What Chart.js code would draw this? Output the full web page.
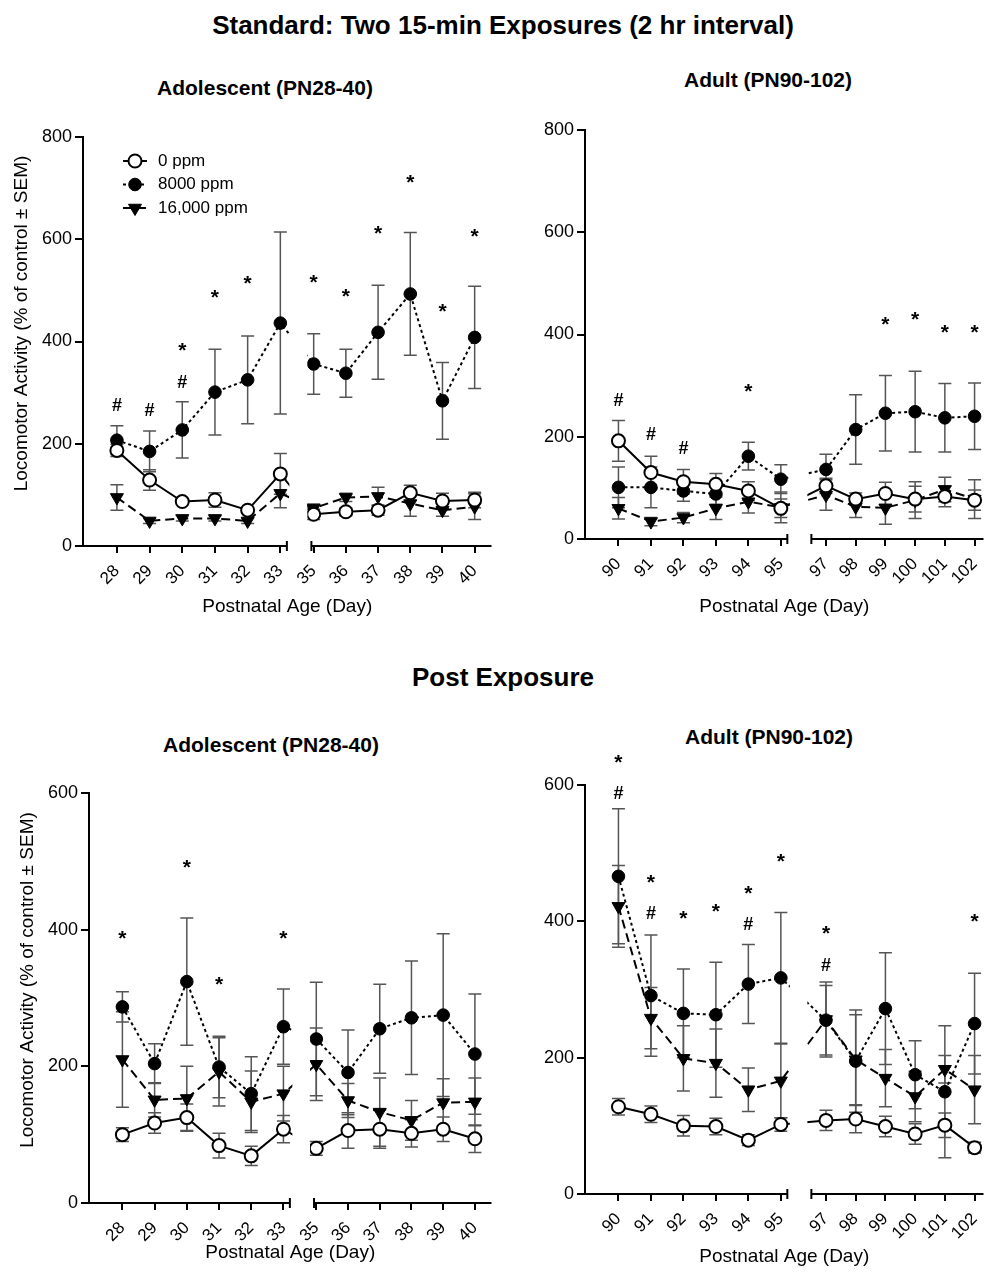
<!DOCTYPE html>
<html>
<head>
<meta charset="utf-8">
<script src="https://cdn.jsdelivr.net/npm/chart.js@4.4.1/dist/chart.umd.min.js"></script>
<style>
  body { margin: 0; background: #fff; width: 992px; height: 1272px; position: relative; overflow: hidden;
         font-family: "Liberation Sans", Arial, Helvetica, sans-serif; color: #000; }
  .hd { position: absolute; font-weight: bold; white-space: nowrap; transform: translate(-50%, -50%); }
  .panel { position: absolute; }
</style>
</head>
<body>
<div class="hd" style="left:503px;top:25px;font-size:26px">Standard: Two 15-min Exposures (2 hr interval)</div>
<div class="hd" style="left:265px;top:88px;font-size:21px">Adolescent (PN28-40)</div>
<div class="hd" style="left:768px;top:80px;font-size:21px">Adult (PN90-102)</div>
<div class="hd" style="left:503px;top:677px;font-size:26px">Post Exposure</div>
<div class="hd" style="left:271px;top:745px;font-size:21px">Adolescent (PN28-40)</div>
<div class="hd" style="left:769px;top:737px;font-size:21px">Adult (PN90-102)</div>

<div class="panel"><canvas id="stdAdol"></canvas></div>
<div class="panel"><canvas id="stdAdult"></canvas></div>
<div class="panel"><canvas id="postAdol"></canvas></div>
<div class="panel"><canvas id="postAdult"></canvas></div>

<script>
// days on the x axis (the gap is the missing day)
const adolDays = [28, 29, 30, 31, 32, 33, 35, 36, 37, 38, 39, 40];
const adultDays = [90, 91, 92, 93, 94, 95, 97, 98, 99, 100, 101, 102];
const seriesNames = ["0 ppm", "8000 ppm", "16,000 ppm"];

// Standard exposure, adolescent (mean, SEM)
const stdAdol0 = [187, 129, 87, 90, 70, 141, 62, 67, 70, 104, 88, 90];
const stdAdol0Sem = [12, 20, 6, 14, 6, 40, 10, 8, 10, 15, 15, 15];
const stdAdol8000 = [207, 185, 227, 301, 325, 436, 356, 338, 418, 493, 284, 408];
const stdAdol8000Sem = [28, 40, 55, 84, 86, 178, 59, 47, 92, 120, 75, 100];
const stdAdol16000 = [95, 49, 54, 54, 49, 103, 74, 95, 97, 83, 70, 77];
const stdAdol16000Sem = [25, 5, 5, 5, 5, 28, 8, 8, 18, 25, 12, 25];
const stdAdolMarks = [[28, "#", 276], [29, "#", 266], [30, "*", 393], [30, "#", 322], [31, "*", 498],
  [32, "*", 525], [35, "*", 527], [36, "*", 500], [37, "*", 623], [38, "*", 722], [39, "*", 470], [40, "*", 617]];

// Standard exposure, adult
const stdAdult0 = [192, 130, 112, 107, 94, 60, 104, 78, 89, 78, 83, 76];
const stdAdult0Sem = [40, 32, 24, 21, 18, 18, 15, 12, 22, 25, 20, 20];
const stdAdult8000 = [101, 101, 94, 88, 162, 117, 136, 214, 246, 249, 237, 240];
const stdAdult8000Sem = [40, 40, 20, 20, 27, 28, 30, 68, 74, 79, 67, 65];
const stdAdult16000 = [60, 34, 42, 60, 73, 62, 86, 63, 61, 76, 97, 78];
const stdAdult16000Sem = [21, 8, 10, 22, 22, 30, 30, 21, 32, 36, 24, 38];
const stdAdultMarks = [[90, "#", 273], [91, "#", 205], [92, "#", 179], [94, "*", 301],
  [99, "*", 432], [100, "*", 441], [101, "*", 415], [102, "*", 415]];

// Post exposure, adolescent
const postAdol0 = [100, 117, 125, 84, 69, 108, 80, 106, 108, 102, 108, 94];
const postAdol0Sem = [10, 15, 20, 18, 14, 20, 10, 26, 28, 20, 18, 20];
const postAdol8000 = [287, 204, 324, 199, 160, 258, 240, 191, 255, 271, 275, 218];
const postAdol8000Sem = [22, 29, 93, 45, 54, 55, 83, 62, 65, 83, 119, 88];
const postAdol16000 = [210, 151, 153, 192, 148, 160, 203, 150, 133, 121, 147, 148];
const postAdol16000Sem = [70, 25, 47, 50, 45, 40, 53, 25, 50, 29, 35, 35];
const postAdolMarks = [[28, "*", 395], [30, "*", 500], [31, "*", 329], [33, "*", 396]];

// Post exposure, adult
const postAdult0 = [128, 117, 100, 99, 79, 102, 108, 110, 99, 88, 101, 68];
const postAdult0Sem = [12, 12, 15, 12, 8, 10, 15, 20, 15, 15, 18, 8];
const postAdult8000 = [466, 291, 265, 263, 308, 317, 255, 195, 272, 175, 150, 250];
const postAdult8000Sem = [99, 89, 65, 77, 58, 96, 51, 75, 82, 50, 97, 74];
const postAdult16000 = [422, 258, 199, 192, 153, 166, 256, 197, 170, 143, 183, 153];
const postAdult16000Sem = [60, 45, 48, 50, 32, 54, 55, 66, 42, 37, 20, 50];
const postAdultMarks = [[90, "*", 641], [90, "#", 588], [91, "*", 466], [91, "#", 412], [92, "*", 413],
  [93, "*", 423], [94, "*", 449], [94, "#", 397], [95, "*", 497], [97, "*", 391], [97, "#", 337], [102, "*", 408]];

const fontFamily = '"Liberation Sans", Arial, Helvetica, sans-serif';
Chart.defaults.font.family = fontFamily;
Chart.defaults.color = "#000";

// look of the three groups
const seriesStyles = [
  { borderDash: [], pointStyle: "circle", pointRadius: 6.5, pointBackgroundColor: "#fff", pointBorderWidth: 2 },
  { borderDash: [3, 3], pointStyle: "circle", pointRadius: 6.3, pointBackgroundColor: "#000", pointBorderWidth: 1 },
  { borderDash: [9, 5], pointStyle: "triangle", pointRotation: 180, pointRadius: 7.5, pointBackgroundColor: "#000", pointBorderWidth: 1 }
];

// x layout of the broken axis, in units of one day step of the first segment
const adolAxis = { min: -1.037, max: 11.46, seg1End: 5.2, seg2Start: 5.95, first2: 6.02, step2: 0.985 };
const adultAxis = { min: -1.03, max: 11.24, seg1End: 5.2, seg2Start: 5.94, first2: 6.39, step2: 0.915 };

// error bars, gap clipping, broken x axis, stars, legend, y title
const figurePlugin = {
  id: "figure",
  beforeDatasetsDraw(chart, args, opts) {
    const { ctx, scales: { x, y } } = chart;
    ctx.save();
    ctx.strokeStyle = "#555";
    ctx.lineWidth = 1.5;
    chart.data.datasets.forEach(ds => {
      ds.data.forEach((p, i) => {
        const px = x.getPixelForValue(p.x);
        const top = y.getPixelForValue(p.y + ds.sem[i]);
        const bot = y.getPixelForValue(Math.max(p.y - ds.sem[i], 0));
        ctx.beginPath();
        ctx.moveTo(px, top); ctx.lineTo(px, bot);
        ctx.moveTo(px - 6.5, top); ctx.lineTo(px + 6.5, top);
        ctx.moveTo(px - 6.5, bot); ctx.lineTo(px + 6.5, bot);
        ctx.stroke();
      });
    });
    ctx.restore();
    // lines run across the break but are hidden inside it
    const g1 = x.getPixelForValue(opts.axis.seg1End) + 2.5;
    const g2 = x.getPixelForValue(opts.axis.seg2Start) - 4;
    ctx.save();
    ctx.beginPath();
    ctx.rect(0, 0, g1, chart.height);
    ctx.rect(g2, 0, chart.width - g2, chart.height);
    ctx.clip();
  },
  afterDatasetsDraw(chart) {
    chart.ctx.restore();
  },
  afterDraw(chart, args, opts) {
    const { ctx, chartArea: a, scales: { x, y } } = chart;
    const e1 = x.getPixelForValue(opts.axis.seg1End);
    const s2 = x.getPixelForValue(opts.axis.seg2Start);
    ctx.save();
    ctx.strokeStyle = "#000";
    ctx.lineWidth = 2;
    ctx.beginPath();
    ctx.moveTo(a.left - 1, a.bottom); ctx.lineTo(e1, a.bottom);
    ctx.moveTo(e1, a.bottom - 5); ctx.lineTo(e1, a.bottom + 5);
    ctx.moveTo(s2, a.bottom - 5); ctx.lineTo(s2, a.bottom + 5);
    ctx.moveTo(s2, a.bottom); ctx.lineTo(a.right, a.bottom);
    ctx.stroke();

    // significance marks
    ctx.fillStyle = "#000";
    ctx.textAlign = "center";
    ctx.textBaseline = "alphabetic";
    opts.marks.forEach(([day, sym, val]) => {
      const px = x.getPixelForValue(opts.pos[opts.days.indexOf(day)]);
      const py = y.getPixelForValue(val);
      const size = sym === "*" ? 21 : 18;
      ctx.font = "bold " + size + "px " + fontFamily;
      ctx.fillText(sym, px, py + (sym === "*" ? 0.59 : 0.35) * size);
    });

    if (opts.legend) {
      ctx.font = "17px " + fontFamily;
      ctx.textAlign = "left";
      ctx.textBaseline = "middle";
      chart.data.datasets.forEach((ds, k) => {
        const cx = a.left + 52, cy = a.top + 24 + k * 23.5;
        ctx.lineWidth = ds.borderWidth;
        ctx.setLineDash(ds.borderDash);
        ctx.beginPath(); ctx.moveTo(cx - 12, cy); ctx.lineTo(cx + 12, cy); ctx.stroke();
        ctx.setLineDash([]);
        ctx.fillStyle = ds.pointBackgroundColor;
        ctx.lineWidth = ds.pointBorderWidth;
        ctx.beginPath();
        if (ds.pointStyle === "triangle") {
          const r = ds.pointRadius;
          ctx.moveTo(cx, cy + r);
          ctx.lineTo(cx - r * 0.866, cy - r / 2);
          ctx.lineTo(cx + r * 0.866, cy - r / 2);
          ctx.closePath();
        } else {
          ctx.arc(cx, cy, ds.pointRadius, 0, Math.PI * 2);
        }
        ctx.fill(); ctx.stroke();
        ctx.fillStyle = "#000";
        ctx.fillText(ds.label, cx + 23, cy);
      });
    }

    if (opts.yTitle) {
      ctx.translate(a.left - 61, (a.top + a.bottom) / 2 - 18);
      ctx.rotate(-Math.PI / 2);
      ctx.font = "19px " + fontFamily;
      ctx.textAlign = "center";
      ctx.textBaseline = "middle";
      ctx.fillText(opts.yTitle, 0, 0);
    }
    ctx.restore();
  }
};

function buildPanel(id, box, area, yMax, axis, days, series, marks, extra) {
  const canvas = document.getElementById(id);
  Object.assign(canvas.parentNode.style, {
    left: box.left + "px", top: box.top + "px", width: box.width + "px", height: box.height + "px"
  });
  const pos = days.map((d, i) => i < 6 ? i : axis.first2 + (i - 6) * axis.step2);
  const datasets = series.map((s, k) => Object.assign({
    label: seriesNames[k],
    data: s[0].map((v, i) => ({ x: pos[i], y: v })),
    sem: s[1],
    tension: 0, fill: false,
    borderColor: "#000", borderWidth: 2, pointBorderColor: "#000"
  }, seriesStyles[k]));

  return new Chart(canvas, {
    type: "line",
    data: { datasets },
    options: {
      responsive: true, maintainAspectRatio: false, animation: false, devicePixelRatio: 1,
      layout: { padding: { top: area.top - box.top, right: box.left + box.width - area.right, left: 0, bottom: 0 } },
      plugins: {
        legend: { display: false },
        tooltip: { enabled: false },
        figure: { axis, pos, days, marks, legend: extra.legend, yTitle: extra.yTitle }
      },
      scales: {
        x: {
          type: "linear", min: axis.min, max: axis.max,
          afterBuildTicks: s => { s.ticks = pos.map(v => ({ value: v })); },
          afterFit: s => {
            s.height = box.top + box.height - area.bottom;
            s.paddingLeft = 0;
            s.paddingRight = 0;
          },
          ticks: { autoSkip: false, minRotation: 45, maxRotation: 45, padding: 8, font: { size: 17 },
                   callback: (v, i) => days[i] },
          grid: { drawOnChartArea: false, color: "#000", lineWidth: 2, tickLength: 7 },
          border: { display: false },
          title: { display: true, text: "Postnatal Age (Day)", font: { size: 19 },
                   padding: { top: 0, bottom: extra.titlePad } }
        },
        y: {
          min: 0, max: yMax,
          afterFit: s => { s.width = area.left - box.left; },
          ticks: { stepSize: 200, padding: 3, font: { size: 18 } },
          grid: { drawOnChartArea: false, color: "#000", lineWidth: 2, tickLength: 8 },
          border: { display: true, color: "#000", width: 2 }
        }
      }
    },
    plugins: [figurePlugin]
  });
}

const yTitleText = "Locomotor Activity (% of control \u00B1 SEM)";

buildPanel("stdAdol", { left: 0, top: 100, width: 500, height: 520 }, { left: 83, right: 493, top: 137, bottom: 546 },
  800, adolAxis, adolDays,
  [[stdAdol0, stdAdol0Sem], [stdAdol8000, stdAdol8000Sem], [stdAdol16000, stdAdol16000Sem]],
  stdAdolMarks, { legend: true, yTitle: yTitleText, titlePad: 1.6 });

buildPanel("stdAdult", { left: 500, top: 95, width: 492, height: 525 }, { left: 585, right: 990, top: 130, bottom: 539 },
  800, adultAxis, adultDays,
  [[stdAdult0, stdAdult0Sem], [stdAdult8000, stdAdult8000Sem], [stdAdult16000, stdAdult16000Sem]],
  stdAdultMarks, { legend: false, yTitle: null, titlePad: 1.6 });

buildPanel("postAdol", { left: 0, top: 760, width: 500, height: 512 }, { left: 89, right: 499, top: 793, bottom: 1203 },
  600, adolAxis, adolDays,
  [[postAdol0, postAdol0Sem], [postAdol8000, postAdol8000Sem], [postAdol16000, postAdol16000Sem]],
  postAdolMarks, { legend: false, yTitle: yTitleText, titlePad: 7.6 });

buildPanel("postAdult", { left: 500, top: 740, width: 492, height: 532 }, { left: 585, right: 990, top: 785, bottom: 1194 },
  600, adultAxis, adultDays,
  [[postAdult0, postAdult0Sem], [postAdult8000, postAdult8000Sem], [postAdult16000, postAdult16000Sem]],
  postAdultMarks, { legend: false, yTitle: null, titlePad: 3.6 });
</script>
</body>
</html>
